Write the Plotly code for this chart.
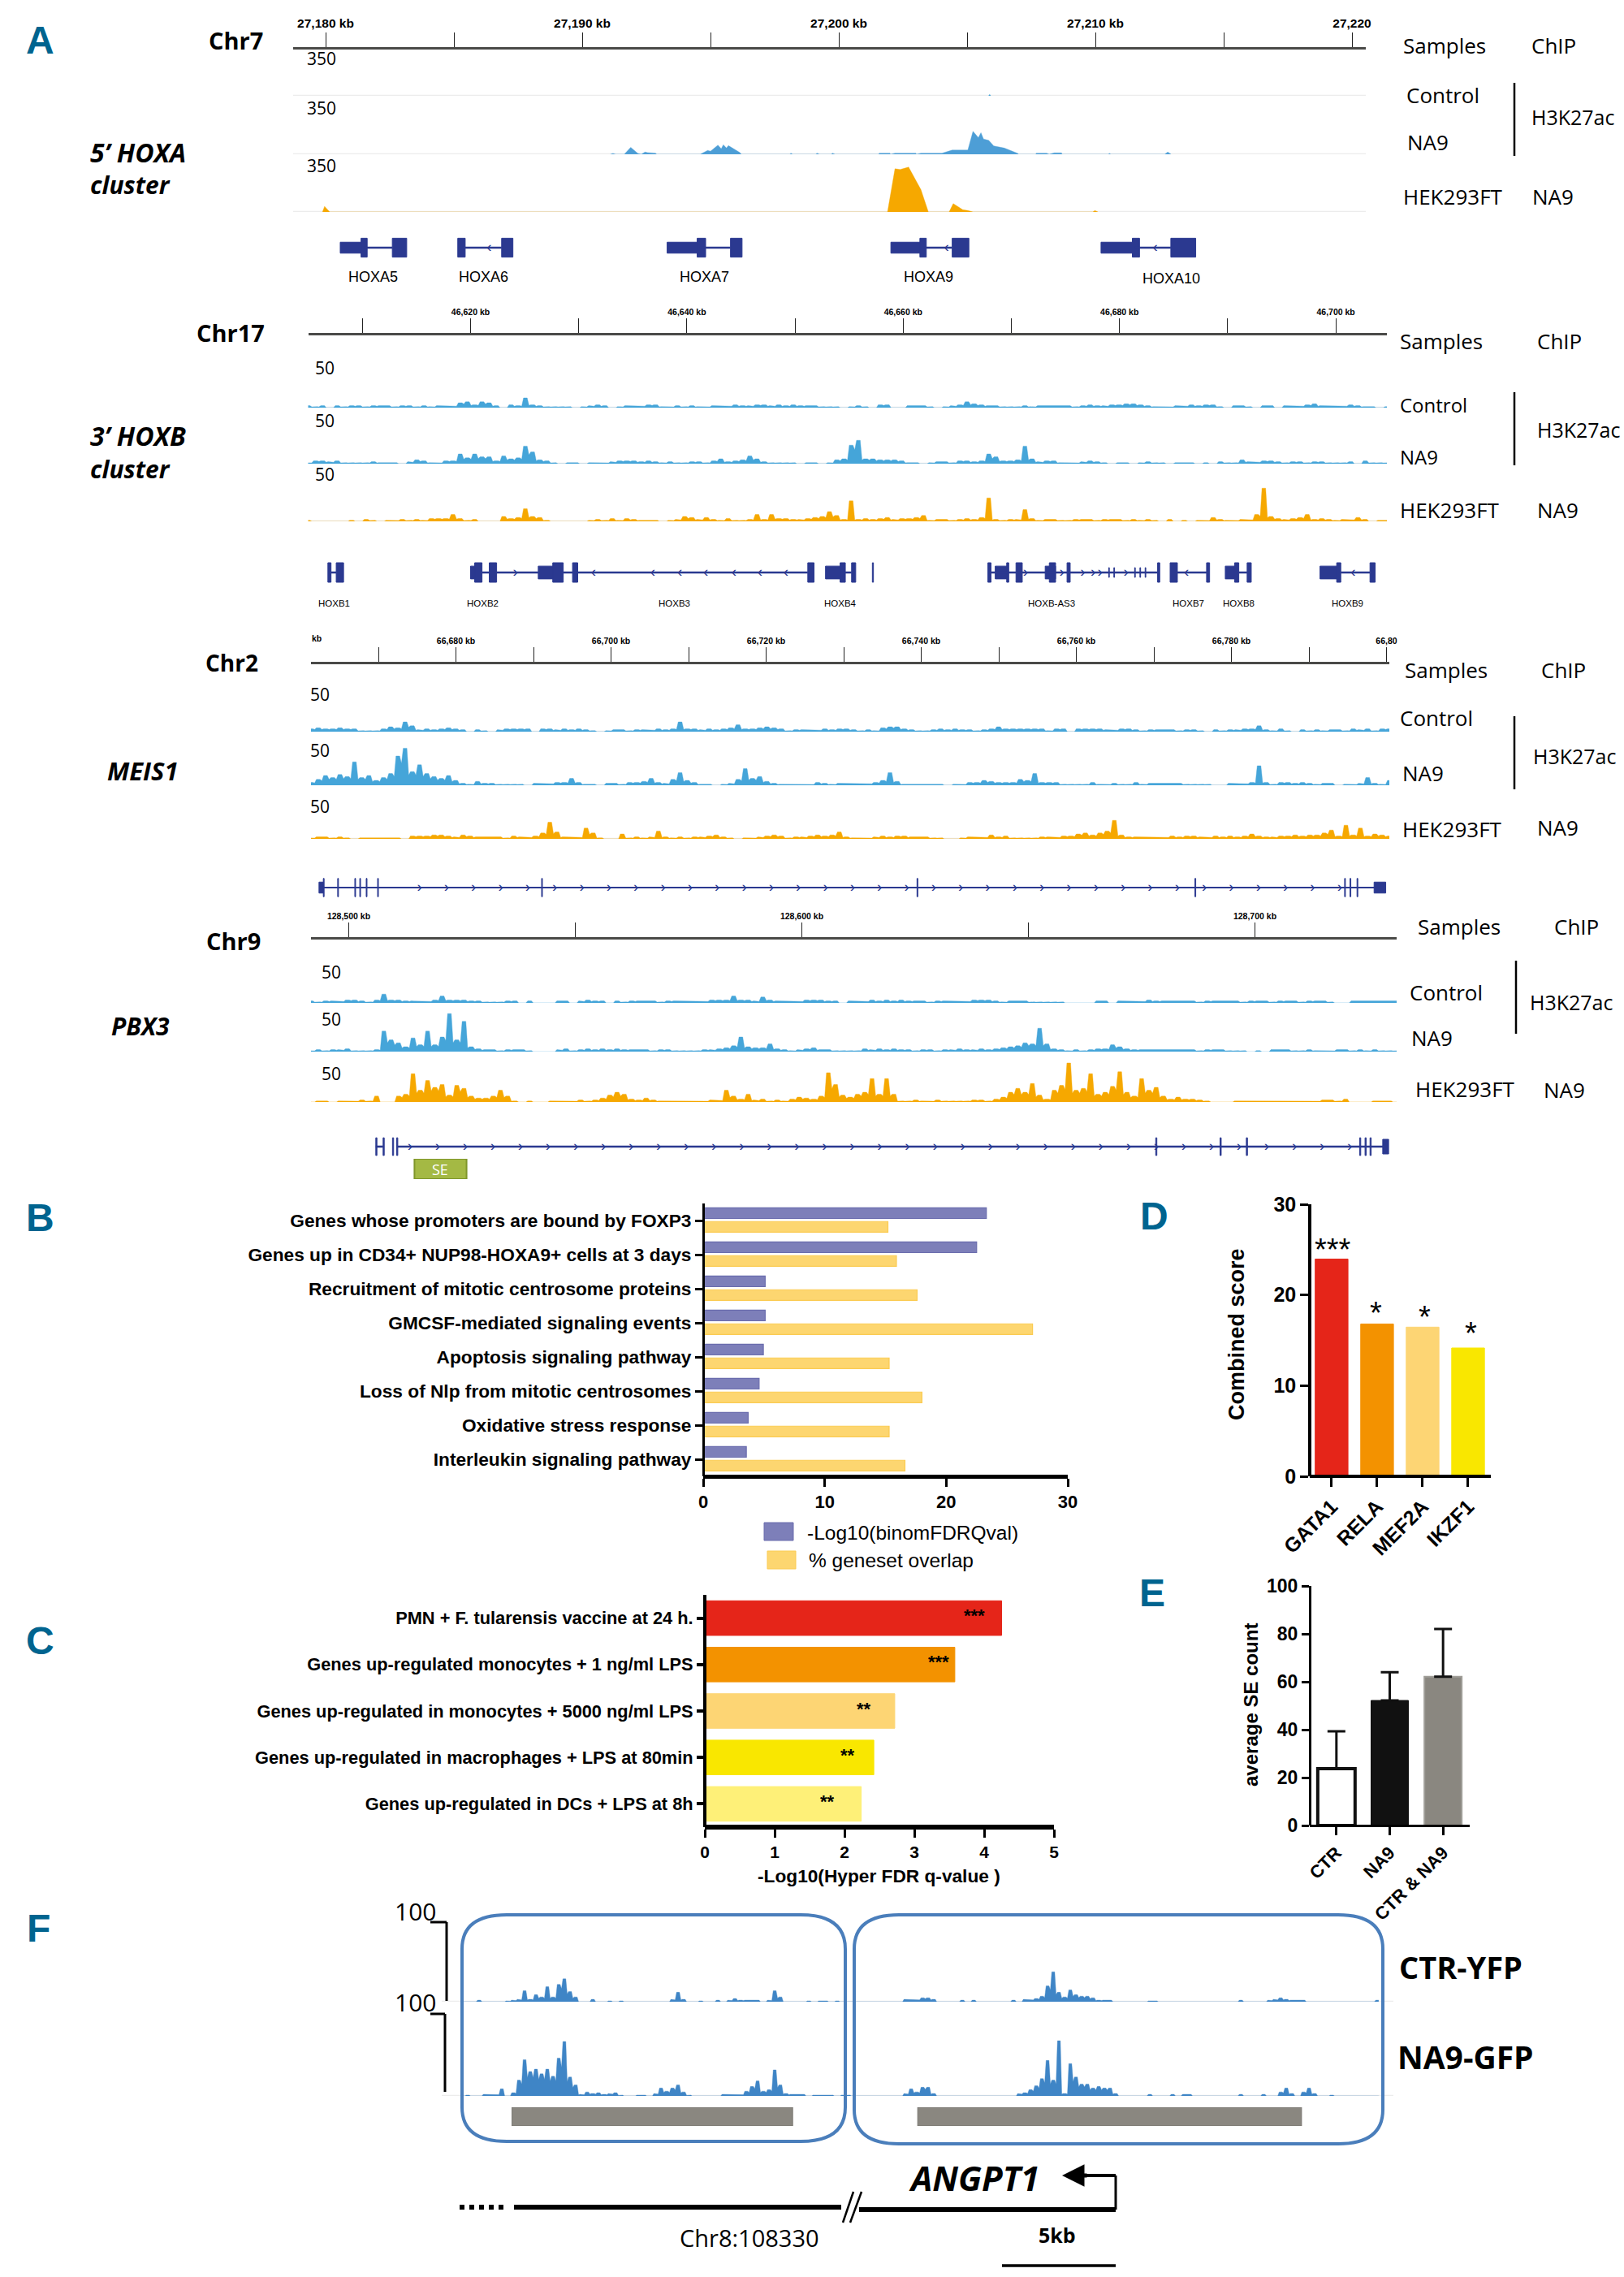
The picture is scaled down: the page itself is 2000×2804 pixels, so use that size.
import numpy as np
import plotly.graph_objects as go

W, H = 2000, 2804
BLUE = '#45a5d9'
ORANGE = '#f6a800'
GENE = '#2b3990'
GREY = '#8a8780'
BASE = '#ececec'
TEAL = '#00648f'

# ---------- Panel A data: Chr7 (kb, signal)
C7_CTR_KB = [25.84, 25.88, 25.92]
C7_CTR = [0, 10, 0]
C7_NA9_KB = [11.1, 11.2, 11.3, 11.64, 11.89, 12.17, 12.3, 12.45, 12.55, 12.86, 12.9, 14.6, 14.89, 15.0, 15.29, 15.42, 15.5, 15.62, 15.7, 16.15, 16.2,
             18.1, 18.13, 18.2, 19.1, 19.15, 19.25, 19.7, 19.76, 19.85, 21.55, 21.58, 21.99, 22.02, 22.19, 23.0, 23.03, 23.2, 24.02, 24.42, 25.03, 25.23, 25.44, 25.54, 25.64, 25.84, 26.04, 26.45, 26.98, 27.0,
             27.67, 27.7, 28.1, 28.2, 28.4, 28.68, 28.7, 30.5, 30.55, 30.6, 32.7, 32.82, 32.95]
C7_NA9 = [0, 6, 0, 0, 50, 6, 0, 16, 12, 8, 0, 0, 28, 22, 66, 40, 68, 45, 62, 12, 0,
          0, 8, 0, 0, 8, 0, 0, 8, 0, 0, 8, 8, 0, 8, 8, 0, 8, 8, 30, 30, 165, 120, 155, 110, 100, 60, 45, 6, 0,
          0, 8, 8, 0, 10, 10, 0, 0, 6, 0, 0, 16, 0]
C7_HEK_KB = [-0.12, -0.04, 0.16, 21.9, 22.19, 22.39, 22.72, 23.0, 23.2, 23.49, 24.3, 24.46, 24.71, 24.83, 25.03, 25.23, 29.9, 29.98, 30.1]
C7_HEK = [0, 40, 0, 0, 310, 305, 322, 230, 160, 0, 0, 60, 30, 16, 10, 0, 0, 10, 0]
A_SHORT_START = [0.57, 13.31, 22.03, 30.22]
A_SHORT_END = [1.5, 14.56, 23.33, 31.52]
A_TALL_START = [1.38, 2.60, 5.15, 6.86, 14.48, 15.78, 23.16, 24.42, 31.44, 32.94]
A_TALL_END = [1.62, 3.16, 5.44, 7.30, 14.81, 16.23, 23.41, 25.07, 31.72, 33.91]
A_INTRON_S = [1.5, 5.44, 14.56, 23.33, 31.52]
A_INTRON_E = [2.6, 6.86, 15.78, 24.42, 32.94]
A_CHEV = [6.37, 24.2, 32.33]
A_GENES = ['HOXA5', 'HOXA6', 'HOXA7', 'HOXA9', 'HOXA10']
A_GENE_KB = [1.84, 6.15, 14.77, 23.5, 32.95]

# ---------- Chr17 profiles (even bins across the track)
C17_CTR = [2,1,2,0,2,1,2,2,1,2, 2,2,1,2,2,1,2,1,2,2, 2,5,6,3,6,5,2,0,3,2, 10,3,2,1,1,1,1,0,1,2,
           3,2,0,1,2,2,2,3,3,1, 1,2,1,2,1,1,2,2,2,3, 2,2,3,3,2,3,2,3,2,2, 2,1,1,1,0,1,2,1,0,3,
           3,0,0,2,2,2,1,0,1,2, 3,6,4,3,2,2,1,1,1,2, 1,2,2,2,2,2,1,2,3,2, 2,3,3,4,4,3,2,1,1,1,
           2,2,3,2,3,3,1,0,2,2, 1,0,2,2,0,2,2,2,3,4, 2,2,2,2,3,2,1,1,0,1]
C17_NA9 = [1,3,3,2,3,1,1,1,1,2, 1,1,1,0,2,4,3,1,1,3, 3,10,6,10,7,7,3,8,5,6, 18,12,4,3,1,0,1,1,0,1,
           1,1,2,3,3,3,2,3,2,1, 2,1,1,2,2,1,3,5,2,3, 4,8,5,2,1,1,1,1,0,1, 1,0,1,4,5,19,24,5,5,4,
           4,4,3,1,1,0,1,2,2,1, 3,3,2,3,10,7,3,3,4,18, 5,2,3,3,1,1,1,2,3,2, 1,0,1,1,0,1,2,1,1,0,
           1,1,1,0,1,0,2,1,1,4, 2,2,3,3,2,1,2,2,1,2, 2,1,1,1,2,0,3,1,1,1]
C17_HEK = [1,0,0,0,0,0,1,0,2,1, 0,1,1,2,1,2,1,3,3,3, 7,3,1,2,0,0,0,5,3,4, 13,5,4,1,0,0,0,0,0,1,
           2,1,3,1,3,2,1,1,1,0, 1,2,5,4,2,4,2,1,3,1, 1,2,7,2,7,3,3,2,2,3, 4,5,10,6,2,21,2,3,2,3,
           4,2,3,3,4,6,1,2,2,1, 2,3,2,4,24,2,1,2,2,12, 3,1,2,2,1,1,2,2,2,1, 2,2,2,1,2,1,2,1,0,2,
           0,1,0,1,1,4,2,1,1,2, 2,7,34,5,3,2,3,4,7,2, 3,2,1,2,2,4,2,0,1,1]
B_SHORT_START = [0, 6.26, 32.82, 48.51, 53.13, 69.78, 78.54]
B_SHORT_END = [0.96, 7.8, 34.26, 49.66, 54.09, 70.84, 80.17]
B_TALL_START = [-13.19, -12.42, 0.38, 1.73, 7.6, 9.43, 31.18, 34.17, 35.23, 37.15, 47.83, 49.57, 50.43, 53.51, 55.15, 63.52, 64.68, 68.05, 70.64, 71.8, 80.08, 83.16]
B_TALL_END = [-12.9, -11.74, 1.06, 2.41, 8.57, 9.91, 31.76, 34.65, 35.61, 37.25, 48.12, 49.76, 51.01, 54.09, 55.44, 63.72, 65.35, 68.33, 71.03, 72.18, 80.46, 83.64]
B_TICK = [59.0, 59.48, 61.4, 61.89, 62.37]
B_INTRON_S = [-12.9, 1.06, 2.41, 8.57, 34.65, 48.12, 65.35, 71.03, 80.46]
B_INTRON_E = [-12.42, 1.73, 6.26, 31.18, 35.23, 63.52, 68.05, 71.8, 83.16]
B_CHEV_R = [4.14, 51.3, 54.67, 56.6, 57.55, 58.2, 60.6]
B_CHEV_L = [11.36, 16.84, 19.35, 21.75, 24.35, 26.76, 29.16, 66.2, 81.6]
B_GENES = ['HOXB1', 'HOXB2', 'HOXB3', 'HOXB4', 'HOXB-AS3', 'HOXB7', 'HOXB8', 'HOXB9']
B_GENE_KB = [-12.6, 1.15, 18.85, 34.2, 53.7, 66.4, 71.0, 81.1]

# ---------- Chr2 profiles
C2_CTR = [3,4,3,3,4,3,3,1,1,1, 3,5,4,10,6,2,3,2,3,4, 3,2,0,2,1,0,2,3,3,3, 3,0,3,3,2,3,2,3,2,1,
          0,1,2,2,1,2,2,2,3,2, 3,10,3,3,2,3,2,3,4,7, 3,3,4,5,4,3,1,2,2,2, 2,3,2,3,3,2,1,2,1,4,
          5,5,3,2,1,1,2,3,2,3, 2,2,1,2,3,5,3,3,3,3, 3,3,1,3,3,0,3,3,3,3, 2,2,3,3,2,1,2,2,2,2,
          1,2,2,1,0,2,1,2,2,3, 3,6,2,1,3,1,0,2,1,2, 1,2,2,1,3,2,3,1,3,3]
C2_NA9 = [3,6,10,8,11,9,24,8,10,5, 8,12,30,38,14,21,12,9,7,10, 5,2,1,4,2,2,1,1,1,1, 0,2,2,2,3,3,7,3,1,1,
          0,2,2,1,3,3,4,7,3,2, 6,13,5,3,1,1,0,1,2,6, 17,7,9,4,2,1,1,1,1,1, 3,2,1,2,2,2,2,2,3,5,
          13,4,1,1,1,1,1,1,0,1, 1,3,3,5,4,3,3,3,6,5, 12,3,3,3,1,1,1,1,3,1, 1,2,1,1,3,1,2,2,2,2,
          2,1,1,1,1,0,0,2,2,2, 3,20,3,1,3,3,2,3,2,1, 2,2,0,1,1,2,8,2,1,5]
C2_HEK = [1,2,2,1,2,1,0,1,1,1, 1,1,1,0,3,3,3,4,4,3, 2,4,3,2,2,2,2,1,3,2, 2,3,6,17,7,2,2,2,11,6,
          1,0,0,5,1,2,1,2,8,2, 1,2,1,2,2,3,4,2,1,0, 1,1,2,3,4,3,1,2,2,3, 4,3,4,7,2,1,1,1,2,3,
          2,3,3,2,2,2,1,1,0,0, 1,2,2,2,4,2,3,1,1,1, 1,2,2,2,3,3,5,6,4,6, 8,19,4,2,2,2,2,2,2,3,
          2,3,3,2,2,3,2,3,2,3, 5,3,2,2,3,3,4,3,4,4, 6,9,3,14,4,11,3,5,4,3]
M_TALL = [-17.1, -15.25, -13.04, -12.4, -11.57, -10.1, 11.05, 59.46, 95.3, 114.6, 115.3, 116.2]
M_SHORT_START = [-17.66, 118.4]
M_SHORT_END = [-17.1, 119.9]

# ---------- Chr9 profiles
C9_CTR = [2,1,2,2,2,3,3,2,1,3, 9,3,3,2,2,2,2,3,7,3, 3,3,2,2,1,1,1,2,2,0, 2,0,0,0,2,2,0,2,3,2,
          2,0,2,1,2,2,2,2,1,2, 2,2,2,2,2,3,3,3,7,3, 3,2,6,3,2,2,2,2,3,3, 3,2,2,0,2,2,2,3,2,3,
          2,3,2,2,2,1,2,2,2,2, 2,3,3,3,2,1,2,2,2,1, 1,1,1,1,0,0,0,0,2,2, 0,2,2,2,2,3,2,2,2,2,
          2,2,1,2,2,2,2,2,1,2, 2,2,1,2,2,2,1,2,2,2, 1,0,0,2,2,2,2,2,2,2]
C9_NA9 = [1,2,1,2,2,3,1,1,1,2, 21,12,9,5,14,7,21,7,15,39, 12,31,5,3,2,2,1,2,2,2, 1,0,0,0,2,3,1,2,3,2,
          3,2,3,2,2,2,2,1,2,2, 1,1,1,1,2,2,3,4,6,15, 5,4,4,8,3,2,1,2,3,4, 2,2,1,1,1,1,3,2,3,2,
          3,2,2,1,2,2,1,2,2,3, 2,2,3,2,3,4,5,6,9,8, 24,8,3,2,1,2,1,2,3,3, 7,5,3,2,2,2,2,2,2,2,
          2,2,1,2,2,2,1,1,1,0, 1,0,2,2,2,1,1,2,1,1, 1,2,2,1,2,1,2,1,1,1]
C9_HEK = [0,1,1,0,1,1,1,2,1,6, 0,0,6,8,29,12,22,15,18,7, 17,14,6,4,4,6,12,6,1,0, 1,0,0,1,1,1,1,2,1,2,
          4,7,10,8,3,2,4,2,1,1, 1,1,1,1,1,2,2,12,6,3, 8,2,3,1,2,1,3,5,4,3, 6,30,18,7,5,8,10,24,8,24,
          8,1,1,2,1,1,2,1,1,1, 1,2,2,1,3,5,10,14,10,19, 7,3,12,17,40,12,14,29,8,10, 16,31,10,6,24,12,15,6,3,5,
          3,3,2,1,0,0,0,1,1,1, 1,1,1,1,1,1,1,1,1,2, 2,1,3,0,0,0,1,1,1,0]
P_TALL = [5.97, 7.58, 9.65, 10.57, 178.1, 192.3, 198.1, 223.1, 224.3, 225.4]
P_SHORT_START = [228.2]
P_SHORT_END = [229.5]
P_SE_KB = [14.5, 26.0]

# ---------- Panel B
B_TERMS = ['Genes whose promoters are bound by FOXP3', 'Genes up in CD34+ NUP98-HOXA9+ cells at 3 days',
           'Recruitment of mitotic centrosome proteins', 'GMCSF-mediated signaling events',
           'Apoptosis signaling pathway', 'Loss of Nlp from mitotic centrosomes',
           'Oxidative stress response', 'Interleukin signaling pathway']
B_LOGQ = [23.3, 22.5, 5.1, 5.1, 4.95, 4.6, 3.7, 3.55]
B_OVERLAP = [15.2, 15.9, 17.6, 27.1, 15.3, 18.0, 15.3, 16.6]

# ---------- Panel C
C_TERMS = ['PMN + F. tularensis vaccine at 24 h.', 'Genes up-regulated monocytes + 1 ng/ml LPS',
           'Genes up-regulated in monocytes + 5000 ng/ml LPS', 'Genes up-regulated in macrophages + LPS at 80min',
           'Genes up-regulated in DCs + LPS at 8h']
C_VALUES = [4.25, 3.58, 2.72, 2.42, 2.24]
C_COLORS = ['#e52519', '#f39200', '#fdd574', '#f9e700', '#fef078']
C_STARS = ['***', '***', '**', '**', '**']
C_STAR_X = [3.86, 3.35, 2.28, 2.05, 1.76]

# ---------- Panel D
D_TF = ['GATA1', 'RELA', 'MEF2A', 'IKZF1']
D_SCORE = [23.96, 16.8, 16.45, 14.15]
D_STARS = ['***', '*', '*', '*']

# ---------- Panel E
E_GROUP = ['CTR', 'NA9', 'CTR & NA9']
E_MEAN = [23.7, 52.2, 62.1]
E_ERR = [15.6, 11.8, 19.9]

# ---------- Panel F
F_CTR = [0,0,0,2,0,0,0,0,1,2, 3,14,3,9,6,19,6,22,29,13, 6,0,0,3,0,0,1,0,1,0, 0,0,0,0,0,0,0,3,12,3,
         0,0,1,0,0,2,0,2,4,2, 2,2,2,0,2,14,6,0,0,0, 0,1,0,1,1,0,1,0,0,0, 0,0,0,0,0,0,0,0,3,3,
         3,5,5,3,0,0,0,0,2,0, 2,0,0,0,0,0,0,2,0,3, 3,4,7,20,38,12,6,15,9,7, 7,5,2,2,2,0,0,0,0,0,
         0,1,1,0,0,0,0,0,0,0, 0,0,0,0,0,0,0,2,0,0, 0,0,2,3,5,3,2,2,2,0, 0,0,0,0,0,0,0,0,0,0, 0,2]
F_NA9 = [0,1,0,0,2,2,2,9,0,4, 20,46,31,34,28,34,25,48,69,24, 14,2,5,3,4,2,3,4,1,0, 0,1,1,0,3,10,6,10,14,5,
         1,0,0,0,0,0,2,2,2,2, 6,12,19,6,8,33,14,3,2,2, 2,0,1,1,1,1,0,1,1,0, 0,0,0,0,0,0,0,0,3,9,
         5,11,11,3,0,0,0,0,0,0, 0,0,0,0,0,0,0,0,3,4, 8,13,22,45,20,70,3,41,24,15, 15,10,12,10,10,3,0,0,0,0,
         0,2,0,0,0,2,0,2,2,0, 0,0,0,0,0,0,0,2,0,0, 0,2,0,0,5,10,3,0,5,10, 3,0,0,1,0,0,0,0,0,0, 0,0]
F_BOX_KB = [2.2, 14.54, 20.04, 36.92]

# ---------- helpers
layout = {}
traces = []
anns = []
shapes = []
nx = [0]
ny = [0]


def new_x(p0, p1, rng, **kw):
    nx[0] += 1
    name = 'xaxis' + ('' if nx[0] == 1 else str(nx[0]))
    d = dict(domain=[p0 / W, p1 / W], range=rng, showgrid=False, zeroline=False, visible=False, anchor='free', position=0)
    d.update(kw)
    layout[name] = d
    return 'x' + ('' if nx[0] == 1 else str(nx[0]))


def new_y(top, bottom, rng, **kw):
    ny[0] += 1
    name = 'yaxis' + ('' if ny[0] == 1 else str(ny[0]))
    d = dict(domain=[1 - bottom / H, 1 - top / H], range=rng, showgrid=False, zeroline=False, visible=False, anchor='free', position=0)
    d.update(kw)
    layout[name] = d
    return 'y' + ('' if ny[0] == 1 else str(ny[0]))


def T(px, py, text, size=26, anchor='left', family='Open Sans', color='black', angle=0):
    anns.append(dict(x=px / W, y=1 - py / H, xref='paper', yref='paper', text=text, showarrow=False, xanchor=anchor,
                     yanchor='middle', textangle=angle, font=dict(family=family, size=size, color=color), borderpad=0))


def L(x0, y0, x1, y1, color='black', width=2, dash=None):
    line = dict(color=color, width=width)
    if dash:
        line['dash'] = dash
    shapes.append(dict(type='line', xref='paper', yref='paper', x0=x0 / W, x1=x1 / W, y0=1 - y0 / H, y1=1 - y1 / H, line=line))


def ruler(left, right, px0, kb0, pxkb, ypx, vals, texts, font):
    rng = [kb0 + (left - px0) / pxkb, kb0 + (right - px0) / pxkb]
    return new_x(left, right, rng, visible=True, side='top', anchor='free', position=1 - ypx / H, showline=True,
                 linecolor='#4a4a48', linewidth=3, ticks='outside', ticklen=18, tickwidth=1.3, tickcolor='#222', tickmode='array',
                 tickvals=vals, ticktext=texts, tickangle=0, tickfont=font), rng


def track(xref, rng, base, height, yr, x, y, color, baseline=True, binned=True):
    yref = new_y(base - height, base, yr)
    if baseline:
        traces.append(go.Scatter(x=rng, y=[0, 0], xaxis=xref, yaxis=yref, mode='lines', line=dict(color=BASE, width=2.5), hoverinfo='skip'))
    if binned:
        x0 = np.asarray(x, dtype=float)
        v = np.asarray(y, dtype=float)
        half = 0.25 * (x0[1] - x0[0])
        xs, ys = [], []
        for i in range(len(v)):
            xs += [x0[i] - half, x0[i] + half]
            ys += [v[i], v[i]]
            if i + 1 < len(v):
                xs.append((x0[i] + x0[i + 1]) / 2)
                ys.append(0.75 * min(v[i], v[i + 1]))
        x, y = xs, ys
    traces.append(go.Scatter(x=x, y=y, xaxis=xref, yaxis=yref, mode='lines', fill='tozeroy', fillcolor=color,
                             line=dict(color=color, width=0.4), hoverinfo='skip'))


def gene_axis(center, half=15):
    return new_y(center - half, center + half, [-1, 1])


def exons(xref, yref, base, starts, ends, width, color=GENE):
    s = np.array(starts) + base
    e = np.array(ends) + base
    traces.append(go.Bar(x=e - s, base=s, y=[0] * len(s), orientation='h', width=width, xaxis=xref, yaxis=yref,
                         marker=dict(color=color, line=dict(color=color, width=1)), hoverinfo='skip'))


def introns(xref, yref, base, starts, ends, lw=2.2):
    xs, ys = [], []
    for a, b in zip(starts, ends):
        xs += [a + base, b + base, None]
        ys += [0, 0, None]
    traces.append(go.Scatter(x=xs, y=ys, xaxis=xref, yaxis=yref, mode='lines', line=dict(color=GENE, width=lw), hoverinfo='skip'))


def chevrons(xref, yref, base, pos, glyph):
    traces.append(go.Scatter(x=np.array(pos) + base, y=[0] * len(pos), xaxis=xref, yaxis=yref, mode='text', hoverinfo='skip',
                             text=[glyph] * len(pos), textposition='middle center',
                             textfont=dict(family='Liberation Sans', size=19, color=GENE)))


def side_labels(items):
    for it in items:
        T(*it)


LN = 'Liberation Sans'

# ---------- Chr7
vals = [27180 + 5 * i for i in range(9)]
texts = ['27,180 kb', '', '27,190 kb', '', '27,200 kb', '', '27,210 kb', '', '27,220']
x7, r7 = ruler(361, 1682, 401, 27180, 31.6, 59, vals, texts, dict(family='Liberation Sans', size=15.5, weight=700, color='black'))
k7 = lambda a: list(np.array(a) + 27180)
track(x7, r7, 118, 60, [0, 350], k7(C7_CTR_KB), C7_CTR, BLUE, binned=False)
track(x7, r7, 190, 60, [0, 350], k7(C7_NA9_KB), C7_NA9, '#4d9ed6', binned=False)
track(x7, r7, 261, 60, [0, 350], k7(C7_HEK_KB), C7_HEK, ORANGE, binned=False)
g7 = gene_axis(305)
exons(x7, g7, 27180, A_SHORT_START, A_SHORT_END, 0.9)
exons(x7, g7, 27180, A_TALL_START, A_TALL_END, 1.55)
introns(x7, g7, 27180, A_INTRON_S, A_INTRON_E, 2.5)
chevrons(x7, g7, 27180, A_CHEV, '‹')
for n, k in zip(A_GENES, A_GENE_KB):
    anns.append(dict(x=27180 + k, y=1 - (343 if n == 'HOXA10' else 341) / H, xref=x7, yref='paper', yanchor='middle', text=n, showarrow=False,
                     font=dict(family='Liberation Sans', size=18, color='black')))
side_labels([(1727, 56, 'Samples'), (1885, 56, 'ChIP'), (1731, 117, 'Control'), (1732, 175, 'NA9'), (1727, 242, 'HEK293FT'),
             (1886, 242, 'NA9'), (1885, 144, 'H3K27ac', 25)])
L(1865, 102, 1865, 192, width=2.5)
for py in (72, 133, 204):
    T(377, py, '350', 21)
T(256, 50, '<b>Chr7</b>', 29)
T(110, 187, "<b><i>5’ HOXA</i></b>", 32)
T(110, 228, "<b><i>cluster</i></b>", 30)

# ---------- Chr17
vals = [46610 + 10 * i for i in range(10)]
texts = ['', '46,620 kb', '', '46,640 kb', '', '46,660 kb', '', '46,680 kb', '', '46,700 kb']
x17, r17 = ruler(379.5, 1708, 579.5, 46620, 13.32, 411, vals, texts, dict(family=LN, size=10.5, weight=700, color='black'))
for base, prof, col in ((502, C17_CTR, BLUE), (571, C17_NA9, BLUE), (642, C17_HEK, ORANGE)):
    track(x17, r17, base, 60, [0, 50], np.linspace(r17[0], r17[1], len(prof)), prof, col)
g17 = gene_axis(705)
exons(x17, g17, 46620, B_SHORT_START, B_SHORT_END, 1.05)
exons(x17, g17, 46620, B_TALL_START, B_TALL_END, 1.6)
exons(x17, g17, 46620, B_TICK, [v + 0.06 for v in B_TICK], 0.8)
introns(x17, g17, 46620, B_INTRON_S, B_INTRON_E, 2.5)
chevrons(x17, g17, 46620, B_CHEV_R, '›')
chevrons(x17, g17, 46620, B_CHEV_L, '‹')
for n, k in zip(B_GENES, B_GENE_KB):
    anns.append(dict(x=46620 + k, y=1 - 743 / H, xref=x17, yref='paper', yanchor='middle', text=n, showarrow=False, font=dict(family=LN, size=11.5, color='black')))
side_labels([(1723, 420, 'Samples'), (1892, 420, 'ChIP'), (1723, 499, 'Control', 24), (1723, 563, 'NA9', 24), (1723, 628, 'HEK293FT'),
             (1892, 628, 'NA9'), (1892, 529, 'H3K27ac', 25)])
L(1865, 483, 1865, 573, width=2.5)
for py in (453, 518, 584):
    T(387, py, '50', 21)
T(241, 409, '<b>Chr17</b>', 29)
T(110, 536, "<b><i>3’ HOXB</i></b>", 32)
T(110, 578, "<b><i>cluster</i></b>", 30)

# ---------- Chr2
vals = [66670 + 10 * i for i in range(14)]
texts = ['', '66,680 kb', '', '66,700 kb', '', '66,720 kb', '', '66,740 kb', '', '66,760 kb', '', '66,780 kb', '', '66,80']
x2, r2 = ruler(383, 1711, 561.5, 66680, 9.55, 816, vals, texts, dict(family=LN, size=10.5, weight=700, color='black'))
for base, prof, col in ((901, C2_CTR, BLUE), (967, C2_NA9, BLUE), (1033, C2_HEK, ORANGE)):
    track(x2, r2, base, 60, [0, 50], np.linspace(r2[0], r2[1], len(prof)), prof, col)
g2 = gene_axis(1093)
introns(x2, g2, 66680, [-17.1], [118.5])
exons(x2, g2, 66680, M_TALL, [v + 0.1 for v in M_TALL], 1.5)
exons(x2, g2, 66680, M_SHORT_START, M_SHORT_END, 0.9)
chevrons(x2, g2, 66680, np.arange(-4.7, 117, 3.49), '›')
side_labels([(1729, 825, 'Samples'), (1897, 825, 'ChIP'), (1723, 884, 'Control'), (1726, 952, 'NA9'), (1726, 1021, 'HEK293FT'),
             (1892, 1019, 'NA9'), (1887, 931, 'H3K27ac', 25)])
T(383, 786, '<b>kb</b>', 10.5, anchor='left', family=LN)
L(1865, 882, 1865, 972, width=2.5)
for py in (855, 924, 993):
    T(381, py, '50', 21)
T(252, 816, '<b>Chr2</b>', 28)
T(131, 949, "<b><i>MEIS1</i></b>", 31)

# ---------- Chr9
vals = [128500 + 50 * i for i in range(5)]
texts = ['128,500 kb', '', '128,600 kb', '', '128,700 kb']
x9, r9 = ruler(383, 1720, 429.5, 128500, 5.58, 1155, vals, texts, dict(family=LN, size=10.5, weight=700, color='black'))
for base, prof, col in ((1235, C9_CTR, BLUE), (1295, C9_NA9, BLUE), (1357, C9_HEK, ORANGE)):
    track(x9, r9, base, 60, [0, 50], np.linspace(r9[0], r9[1], len(prof)), prof, col, baseline=False)
g9 = gene_axis(1412)
introns(x9, g9, 128500, [5.97, 10.6], [7.58, 228.5], 2.6)
exons(x9, g9, 128500, P_TALL, [v + 0.25 for v in P_TALL], 1.45)
exons(x9, g9, 128500, P_SHORT_START, P_SHORT_END, 1.2)
chevrons(x9, g9, 128500, np.arange(13.5, 221, 6.1), '›')
y_se = new_y(1427, 1452, [0, 1])
traces.append(go.Bar(x=[P_SE_KB[1] - P_SE_KB[0]], base=[128500 + P_SE_KB[0]], y=[0.5], orientation='h', width=1, xaxis=x9, yaxis=y_se,
                     marker=dict(color='#a4b944', line=dict(color='#7f962a', width=2)), hoverinfo='skip'))
T(542, 1440, 'SE', 18, anchor='center', color='white')
side_labels([(1745, 1141, 'Samples'), (1913, 1141, 'ChIP'), (1735, 1222, 'Control'), (1737, 1278, 'NA9'), (1742, 1341, 'HEK293FT'),
             (1900, 1342, 'NA9'), (1883, 1234, 'H3K27ac', 25)])
L(1867, 1183, 1867, 1273, width=2.5)
for py in (1197, 1255, 1322):
    T(395, py, '50', 21)
T(253, 1158, '<b>Chr9</b>', 29)
T(136, 1264, "<b><i>PBX3</i></b>", 30)

# ---------- Panel B
bold = lambda s: dict(family='Liberation Sans', size=s, weight=700, color='black')
xb = new_x(866, 1315, [0, 30], visible=True, anchor='free', position=1 - 1818 / H, showline=True, mirror=True, linecolor='black', linewidth=5,
           ticks='outside', ticklen=10, tickwidth=3, tickcolor='black', tickvals=[0, 10, 20, 30], tickfont=bold(22))
yb = new_y(1482, 1818, [7.5, -0.5], visible=True, anchor='free', position=866 / W, type='linear', showline=True, mirror=True, linecolor='black', linewidth=3,
           ticks='outside', ticklen=9, tickwidth=3, tickcolor='black', tickmode='array', tickvals=list(range(8)), ticktext=B_TERMS, tickfont=bold(22.7))
idx = list(range(8))
traces.append(go.Bar(x=B_LOGQ, y=idx, orientation='h', width=0.31, offset=-0.37, xaxis=xb, yaxis=yb,
                     marker=dict(color='#7d7fb9', line=dict(color='#6a6cad', width=1.2)), hoverinfo='skip'))
traces.append(go.Bar(x=B_OVERLAP, y=idx, orientation='h', width=0.31, offset=0.03, xaxis=xb, yaxis=yb,
                     marker=dict(color='#fdd670', line=dict(color='#fbcb52', width=1.2)), hoverinfo='skip'))
shapes.append(dict(type='rect', xref='paper', yref='paper', x0=941 / W, x1=977 / W, y0=1 - 1897 / H, y1=1 - 1875 / H, fillcolor='#7d7fb9', line=dict(color='#6a6cad', width=1)))
shapes.append(dict(type='rect', xref='paper', yref='paper', x0=945 / W, x1=980 / W, y0=1 - 1932 / H, y1=1 - 1910 / H, fillcolor='#fdd670', line=dict(color='#fbcb52', width=1)))
T(993, 1887, '-Log10(binomFDRQval)', 24.5, family='Liberation Sans')
T(995, 1922, '% geneset overlap', 24.5, family='Liberation Sans')

# ---------- Panel C
xc = new_x(868, 1298, [0, 5], visible=True, anchor='free', position=1 - 2250 / H, showline=True, linecolor='black', linewidth=6,
           ticks='outside', ticklen=10, tickwidth=3, tickcolor='black', tickvals=[0, 1, 2, 3, 4, 5], tickfont=bold(21))
yc = new_y(1964, 2250, [4.5, -0.5], visible=True, anchor='free', position=868 / W, showline=True, linecolor='black', linewidth=4,
           ticks='outside', ticklen=8, tickwidth=4, tickcolor='black', tickmode='array', tickvals=list(range(5)), ticktext=C_TERMS, tickfont=bold(21.8))
traces.append(go.Bar(x=C_VALUES, y=list(range(5)), orientation='h', width=0.745, xaxis=xc, yaxis=yc,
                     marker=dict(color=C_COLORS, line=dict(color=C_COLORS, width=1)), hoverinfo='skip'))
for i, (s, xs) in enumerate(zip(C_STARS, C_STAR_X)):
    anns.append(dict(x=xs, y=i, xref=xc, yref=yc, text='<b>' + s + '</b>', showarrow=False, yshift=3, font=dict(family='Liberation Sans', size=22, color='black')))
T(1082, 2310, '<b>-Log10(Hyper FDR q-value )</b>', 22.7, anchor='center', family='Liberation Sans')

# ---------- Panel D
xd = new_x(1613, 1836, [-0.48, 3.5], visible=True, anchor='free', position=1 - 1818 / H, showline=True, mirror=True, linecolor='black', linewidth=3.5,
           ticks='outside', ticklen=11, tickwidth=3, tickcolor='black', tickmode='array', tickvals=[0, 1, 2, 3], ticktext=D_TF, tickangle=-45, tickfont=bold(25))
yd = new_y(1483, 1818, [0, 30], visible=True, anchor='free', position=1613 / W, showline=True, mirror=True, linecolor='black', linewidth=3.5,
           ticks='outside', ticklen=10, tickwidth=3, tickcolor='black', tickvals=[0, 10, 20, 30], tickfont=bold(25))
traces.append(go.Bar(x=[0, 1, 2, 3], y=D_SCORE, width=0.72, xaxis=xd, yaxis=yd, marker=dict(color=C_COLORS[:4], line=dict(color=C_COLORS[:4], width=1)), hoverinfo='skip'))
for i, (s, v, ys, xsh) in enumerate(zip(D_STARS, D_SCORE, [10, 12, 11, 17], [2, -1, 3, 4])):
    anns.append(dict(x=i, y=v, xref=xd, yref=yd, text=s, showarrow=False, yanchor='bottom', xshift=xsh, yshift=ys - 22, font=dict(family='Liberation Sans', size=38, color='black')))
T(1523, 1643, '<b>Combined score</b>', 27, anchor='center', family='Liberation Sans', angle=-90)

# ---------- Panel E
xe = new_x(1613, 1810, [-0.5, 2.5], visible=True, anchor='free', position=1 - 2248 / H, showline=True, mirror=True, linecolor='black', linewidth=3,
           ticks='outside', ticklen=10, tickwidth=3, tickcolor='black', tickmode='array', tickvals=[0, 1, 2], ticktext=E_GROUP, tickangle=-45, tickfont=bold(22))
ye = new_y(1953, 2248, [0, 100], visible=True, anchor='free', position=1613 / W, showline=True, mirror=True, linecolor='black', linewidth=3,
           ticks='outside', ticklen=9, tickwidth=3, tickcolor='black', tickvals=[0, 20, 40, 60, 80, 100], tickfont=bold(23))
traces.append(go.Bar(x=[0, 1, 2], y=E_MEAN, width=0.7, xaxis=xe, yaxis=ye, hoverinfo='skip',
                     marker=dict(color=['white', '#111111', GREY], line=dict(color=['#111111', '#111111', '#a09e98'], width=[4, 1, 2])),
                     error_y=dict(type='data', symmetric=False, array=E_ERR, arrayminus=[0, 0, 0], thickness=3, width=11, color='#111111')))
T(1540, 2100, '<b>average SE count</b>', 24, anchor='center', family='Liberation Sans', angle=-90)

# ---------- Panel F
rf = [-0.893, 40.96]
xf = new_x(544, 1716, rf)
FB = '#3f85c6'
binx = np.arange(len(F_CTR)) * 0.25
track(xf, rf, 2465, 97, [0, 100], binx, F_CTR, FB)
binx2 = np.arange(len(F_NA9)) * 0.25
track(xf, rf, 2581, 97, [0, 100], binx2, F_NA9, FB)
yg = new_y(2595, 2618, [0, 1])
traces.append(go.Bar(x=[F_BOX_KB[1] - F_BOX_KB[0], F_BOX_KB[3] - F_BOX_KB[2]], base=[F_BOX_KB[0], F_BOX_KB[2]], y=[0.5, 0.5], orientation='h', width=1,
                     xaxis=xf, yaxis=yg, marker=dict(color=GREY, line=dict(color='#77756f', width=1)), hoverinfo='skip'))


def rbox(x0, y0, x1, y1, rx=55, ry=42):
    ax, ay = rx / W, ry / H
    X0, X1, Y0, Y1 = x0 / W, x1 / W, 1 - y0 / H, 1 - y1 / H
    path = (f'M {X0 + ax},{Y0} L {X1 - ax},{Y0} Q {X1},{Y0} {X1},{Y0 - ay} L {X1},{Y1 + ay} Q {X1},{Y1} {X1 - ax},{Y1} '
            f'L {X0 + ax},{Y1} Q {X0},{Y1} {X0},{Y1 + ay} L {X0},{Y0 - ay} Q {X0},{Y0} {X0 + ax},{Y0} Z')
    shapes.append(dict(type='path', xref='paper', yref='paper', path=path, line=dict(color='#4a7ebb', width=4)))


rbox(569, 2358, 1041, 2637)
rbox(1052, 2358, 1703, 2640)
L(530, 2367, 550, 2367, width=3)
L(550, 2367, 550, 2464, width=3)
L(530, 2480, 548, 2480, width=3)
L(548, 2480, 548, 2576, width=3)
T(511, 2353, '100', 30, anchor='center')
T(511, 2465, '100', 30, anchor='center')
T(1722, 2422, '<b>CTR-YFP</b>', 38)
T(1720, 2532, '<b>NA9-GFP</b>', 39)
T(1199, 2681, '<b><i>ANGPT1</i></b>', 42, anchor='center')
L(633, 2718, 1036, 2718, width=6)
L(1058, 2721, 1374, 2721, width=6)
L(566, 2718, 624, 2718, width=6, dash='dot')
L(1038, 2737, 1051, 2699, width=2.5)
L(1047, 2737, 1061, 2699, width=2.5)
L(1374, 2721, 1374, 2679, width=3)
L(1374, 2679, 1325, 2679, width=4)
anns.append(dict(x=1308 / W, y=1 - 2679 / H, ax=32, ay=0, xref='paper', yref='paper', text='', showarrow=True,
                 arrowhead=2, arrowsize=1.1, arrowwidth=5, arrowcolor='black'))
T(923, 2755, 'Chr8:108330', 29, anchor='center')
T(1302, 2752, '<b>5kb</b>', 25, anchor='center')
L(1234, 2790, 1374, 2790, width=3.5)

# ---------- Panel letters
for px, py, s in ((49, 50, 'A'), (49, 1499, 'B'), (49, 2020, 'C'), (1421, 1497, 'D'), (1419, 1961, 'E'), (47, 2374, 'F')):
    T(px, py, '<b>' + s + '</b>', 48, anchor='center', family=LN, color=TEAL)

fig = go.Figure(data=traces)
fig.update_layout(width=W, height=H, autosize=False, margin=dict(l=0, r=0, t=0, b=0, autoexpand=False), paper_bgcolor='white', plot_bgcolor='rgba(0,0,0,0)',
                  showlegend=False, barmode='overlay', annotations=anns, shapes=shapes, **layout)
fig.write_html('out.html', config=dict(displayModeBar=False), post_script="document.body.style.margin='0';document.body.style.padding='0';")
